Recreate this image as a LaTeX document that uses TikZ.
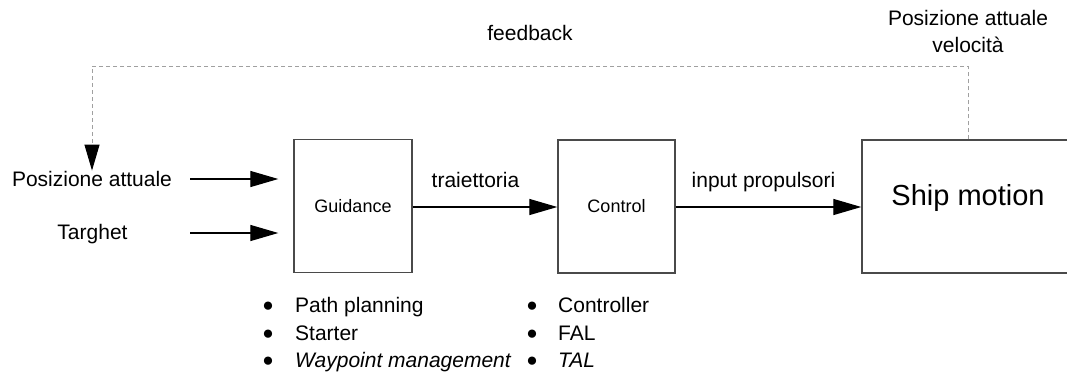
\documentclass[tikz,border=0pt]{standalone}
\usepackage{fontspec}
\setmainfont{Liberation Sans}
\usetikzlibrary{arrows.meta}
\definecolor{boxgray}{HTML}{4A4A4A}
\definecolor{fbgray}{HTML}{A0A0A0}
\begin{document}
\begin{tikzpicture}[x=1pt,y=-1pt,
  box/.style={draw=boxgray, line width=1.4pt, minimum height=133pt,
    inner sep=0pt, font=\fontsize{18}{22}\selectfont},
  lbl/.style={font=\fontsize{21}{27}\selectfont, inner sep=0pt},
  dot/.style={font=\fontsize{19}{21}\selectfont, inner sep=0pt, anchor=center},
  flow/.style={line width=1.3pt, -{Triangle[length=28pt,width=16pt]}},
  fb/.style={draw=fbgray, line width=1pt, dash pattern=on 4pt off 3pt}
]
\useasboundingbox (0,0) rectangle (1067,375);
\clip (0,0) rectangle (1067,375);
\fill[white] (0,0) rectangle (1067,375);

% blocks
\node[box, minimum width=118pt] (guid) at (353,206) {Guidance};
\node[box, minimum width=117pt] (ctrl) at (616.5,206.5) {Control};
\node[box, minimum width=212pt, font=\fontsize{29}{34}\selectfont,
      text height=21pt, text depth=24pt] (ship) at (968,206.5) {Ship motion};

% inputs
\node[lbl, anchor=base] (pos) at (92,186) {Posizione attuale};
\node[lbl, anchor=base] (tgt) at (92.5,239) {Targhet};
\coordinate (in1) at (190,179);
\coordinate (in2) at (190,233);
\draw[flow, shorten >=15pt] (in1) -- (in1 -| guid.west);
\draw[flow, shorten >=15pt] (in2) -- (in2 -| guid.west);

% forward chain
\draw[flow] (guid.east |- 0,207) -- (ctrl.west |- 0,207);
\draw[flow] (ctrl.east |- 0,207) -- (ship.west |- 0,207);
\node[lbl, anchor=base] (traj) at (475.5,187) {traiettoria};
\node[lbl, anchor=base] (inp) at (763.5,187) {input propulsori};

% feedback loop
\node[lbl, anchor=base] (fbl) at (530,40) {feedback};
\node[lbl, align=center, anchor=north] (state) at (968,10) {Posizione attuale\\velocità};
\draw[fb, -{Triangle[length=26pt,width=15pt,color=black]}]
  (ship.north) -- ++(0,-73) -| (pos.north);

% task lists
\foreach \i/\y/\t in {1/312/Path planning, 2/340/Starter, 3/367/\textit{Waypoint management}} {
  \node[dot] (gb\i) at (268,\y-5) {●};
  \node[lbl, anchor=base west] (gt\i) at (295,\y) {\t};
}
\foreach \i/\y/\t in {1/312/Controller, 2/340/FAL, 3/367/\textit{TAL}} {
  \node[dot] (cb\i) at (532,\y-5) {●};
  \node[lbl, anchor=base west] (ct\i) at (558,\y) {\t};
}
\end{tikzpicture}
\end{document}
